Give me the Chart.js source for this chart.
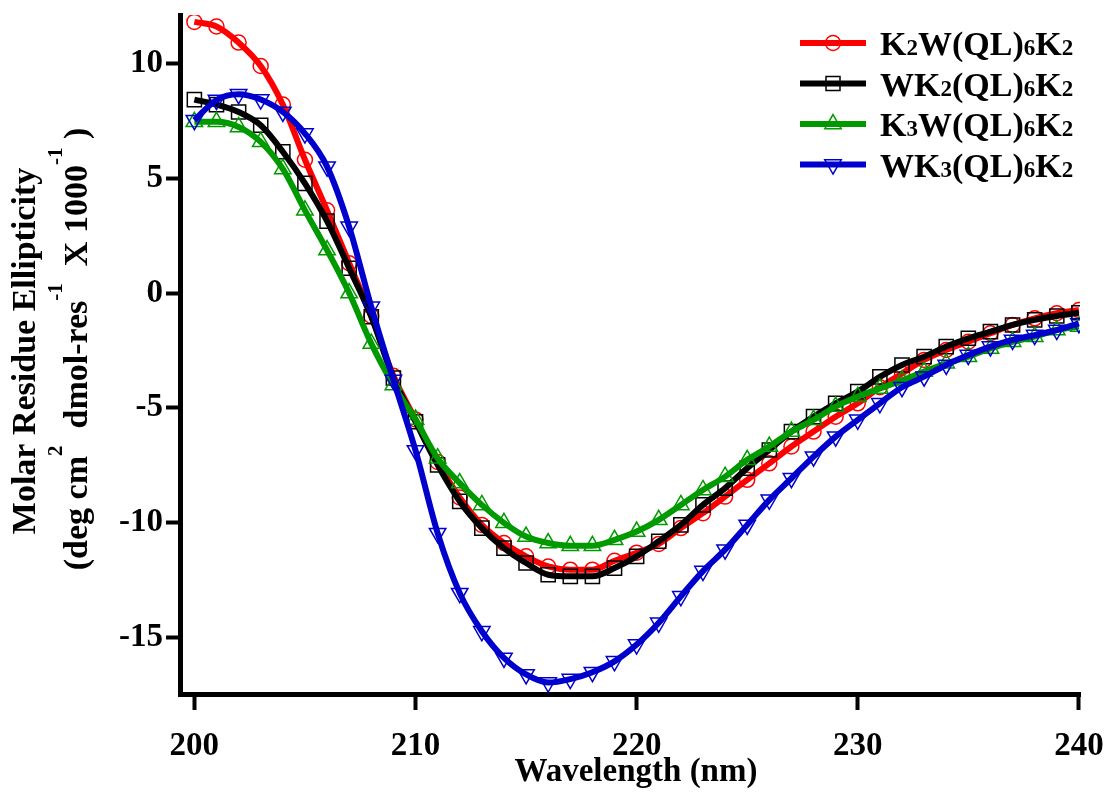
<!DOCTYPE html>
<html>
<head>
<meta charset="utf-8">
<script src="https://cdn.jsdelivr.net/npm/chart.js@4"></script>
<style>
  html, body { margin: 0; padding: 0; background: #fff; }
  #wrap { width: 1110px; height: 793px; position: relative; }
</style>
</head>
<body>
<div id="wrap"><canvas id="cd"></canvas></div>
<script>
// ----- data -----
const wavelengths = [200, 201, 202, 203, 204, 205, 206, 207, 208, 209, 210,
  211, 212, 213, 214, 215, 216, 217, 218, 219, 220,
  221, 222, 223, 224, 225, 226, 227, 228, 229, 230,
  231, 232, 233, 234, 235, 236, 237, 238, 239, 240];

const k2w = [11.8, 11.6, 10.9, 9.88, 8.2, 5.8, 3.6, 1.3, -1.0, -3.6, -5.5,
  -7.35, -8.9, -10.09, -10.88, -11.46, -11.9, -12.04, -12.04, -11.65, -11.3,
  -10.92, -10.23, -9.58, -8.86, -8.13, -7.41, -6.68, -6.03, -5.38, -4.8,
  -4.1, -3.5, -2.91, -2.48, -2.12, -1.75, -1.39, -1.1, -0.88, -0.74];

const wk2 = [8.42, 8.2, 7.88, 7.3, 6.15, 4.77, 3.13, 1.08, -1.03, -3.7, -5.6,
  -7.48, -9.07, -10.23, -11.1, -11.75, -12.26, -12.33, -12.33, -11.97, -11.46,
  -10.8, -10.09, -9.22, -8.49, -7.62, -6.83, -6.03, -5.38, -4.8, -4.29,
  -3.65, -3.13, -2.77, -2.33, -1.97, -1.68, -1.39, -1.17, -1.0, -0.86];

const k3w = [7.45, 7.45, 7.23, 6.58, 5.4, 3.6, 1.87, 0.0, -2.2, -4.0, -5.5,
  -7.19, -8.27, -9.22, -10.0, -10.6, -10.88, -11.0, -11.0, -10.74, -10.38,
  -9.87, -9.22, -8.57, -7.99, -7.26, -6.68, -6.03, -5.52, -4.94, -4.51,
  -4.15, -3.8, -3.42, -3.06, -2.77, -2.41, -2.12, -1.9, -1.61, -1.46];

const wk3 = [7.52, 8.4, 8.65, 8.42, 7.88, 6.94, 5.5, 2.88, -0.6, -3.78, -6.85,
  -10.45, -13.06, -14.72, -15.88, -16.6, -16.95, -16.8, -16.5, -16.03, -15.3,
  -14.35, -13.2, -12.1, -11.17, -10.09, -9.0, -8.06, -7.12, -6.25, -5.52,
  -4.8, -4.1, -3.64, -3.13, -2.7, -2.33, -2.04, -1.83, -1.61, -1.32];

const seriesNames = ['K2W(QL)6K2', 'WK2(QL)6K2', 'K3W(QL)6K2', 'WK3(QL)6K2'];
const xTicks = [200, 210, 220, 230, 240];
const yTicks = [-15, -10, -5, 0, 5, 10];

// ----- styles -----
const colors = ['#ff0000', '#000000', '#009a00', '#0000cd'];
const markers = ['circle', 'rect', 'triangle', 'triangleDown'];
const serif = '"Liberation Serif", "Times New Roman", serif';

function toPoints(vals) {
  return wavelengths.map((w, i) => ({ x: w, y: vals[i] }));
}

function makeSet(i, vals, order) {
  const down = markers[i] === 'triangleDown';
  return {
    label: seriesNames[i],
    data: toPoints(vals),
    borderColor: colors[i],
    borderWidth: 6,
    cubicInterpolationMode: 'monotone',
    pointStyle: down ? 'triangle' : markers[i],
    pointRotation: down ? 180 : 0,
    pointRadius: markers[i] === 'circle' ? 7.5 : (markers[i] === 'rect' ? 10 : 9.5),
    pointBorderWidth: 1.5,
    pointBorderColor: colors[i],
    pointBackgroundColor: 'rgba(0,0,0,0)',
    order: order
  };
}

// draw a legend marker by hand
function drawMarker(ctx, style, x, y, color) {
  ctx.save();
  ctx.strokeStyle = color;
  ctx.lineWidth = 1.5;
  ctx.beginPath();
  if (style === 'circle') {
    ctx.arc(x, y, 7.5, 0, Math.PI * 2);
  } else if (style === 'rect') {
    ctx.rect(x - 7, y - 7, 14, 14);
  } else {
    const r = 9.5, s = style === 'triangle' ? 1 : -1;
    for (let k = 0; k < 3; k++) {
      const a = -Math.PI / 2 + k * 2 * Math.PI / 3;
      const px = x + r * Math.cos(a), py = y + s * r * Math.sin(a);
      if (k === 0) ctx.moveTo(px, py); else ctx.lineTo(px, py);
    }
    ctx.closePath();
  }
  ctx.stroke();
  ctx.restore();
}

// text with digits as subscripts
function drawSubText(ctx, text, x, y) {
  let cx = x;
  for (const ch of text) {
    const isSub = /[0-9]/.test(ch);
    ctx.font = 'bold ' + (isSub ? 23 : 34) + 'px ' + serif;
    ctx.fillText(ch, cx, y);
    cx += ctx.measureText(ch).width;
  }
}

// text segments with superscripts, centered on 0
function drawSupLine(ctx, parts, y) {
  let total = 0;
  parts.forEach(p => {
    ctx.font = 'bold ' + (p.sup ? 21 : 34) + 'px ' + serif;
    p.w = ctx.measureText(p.t).width;
    total += p.w;
  });
  let cx = -total / 2;
  parts.forEach(p => {
    ctx.font = 'bold ' + (p.sup ? 21 : 34) + 'px ' + serif;
    ctx.fillText(p.t, cx, p.sup ? y - 25 : y);
    cx += p.w;
  });
}

const textPlugin = {
  id: 'textPlugin',
  afterDraw(chart) {
    const ctx = chart.ctx;
    ctx.save();
    ctx.fillStyle = '#000';
    ctx.textBaseline = 'alphabetic';

    // axis titles
    ctx.font = 'bold 33px ' + serif;
    ctx.textAlign = 'center';
    ctx.fillText('Wavelength (nm)', 636, 781);

    ctx.save();
    ctx.translate(35, 351);
    ctx.rotate(-Math.PI / 2);
    ctx.font = 'bold 34px ' + serif;
    ctx.fillText('Molar Residue Ellipticity', 0, 0);
    ctx.restore();

    ctx.save();
    ctx.translate(87, 349);
    ctx.rotate(-Math.PI / 2);
    ctx.textAlign = 'left';
    drawSupLine(ctx, [
      { t: '(deg cm' }, { t: '2', sup: true }, { t: '  dmol-res' },
      { t: '-1', sup: true }, { t: '  X 1000' }, { t: '-1', sup: true }, { t: ' )' }
    ], 0);
    ctx.restore();

    // legend
    ctx.textAlign = 'left';
    seriesNames.forEach((name, i) => {
      const y = 43 + i * 40.5;
      ctx.save();
      ctx.strokeStyle = colors[i];
      ctx.lineWidth = 6;
      ctx.beginPath();
      ctx.moveTo(800, y);
      ctx.lineTo(866, y);
      ctx.stroke();
      ctx.restore();
      drawMarker(ctx, markers[i], 833, y, colors[i]);
      drawSubText(ctx, name, 880, y + 12);
    });
    ctx.restore();
  }
};

const tickFont = { family: serif, size: 33, weight: 'bold' };

function noOverhang(s) {
  s.paddingLeft = 0;
  s.paddingRight = 0;
  s.paddingTop = 0;
  s.paddingBottom = 0;
}

new Chart(document.getElementById('cd'), {
  type: 'line',
  data: {
    datasets: [
      makeSet(0, k2w, 4),
      makeSet(1, wk2, 3),
      makeSet(2, k3w, 2),
      makeSet(3, wk3, 1)
    ]
  },
  options: {
    responsive: true,
    maintainAspectRatio: false,
    animation: false,
    layout: { padding: { top: 15, right: 30, left: 0, bottom: 0 } },
    plugins: { legend: { display: false }, tooltip: { enabled: false } },
    scales: {
      x: {
        type: 'linear',
        min: 199.35,
        max: 240.05,
        afterBuildTicks: s => { s.ticks = xTicks.map(v => ({ value: v })); },
        afterFit: s => { s.height = 99; noOverhang(s); },
        ticks: { font: tickFont, color: '#000', padding: 17, maxRotation: 0, autoSkip: false },
        border: { display: true, width: 5, color: '#000' },
        grid: { drawOnChartArea: false, drawTicks: true, tickLength: 16, tickWidth: 4, tickColor: '#000' }
      },
      y: {
        min: -17.45,
        max: 12.1,
        afterBuildTicks: s => { s.ticks = yTicks.map(v => ({ value: v })); },
        afterFit: s => { s.width = 180; noOverhang(s); },
        ticks: { font: tickFont, color: '#000', padding: 3, autoSkip: false },
        border: { display: true, width: 5, color: '#000' },
        grid: { drawOnChartArea: false, drawTicks: true, tickLength: 14, tickWidth: 4, tickColor: '#000' }
      }
    }
  },
  plugins: [textPlugin]
});
</script>
</body>
</html>
